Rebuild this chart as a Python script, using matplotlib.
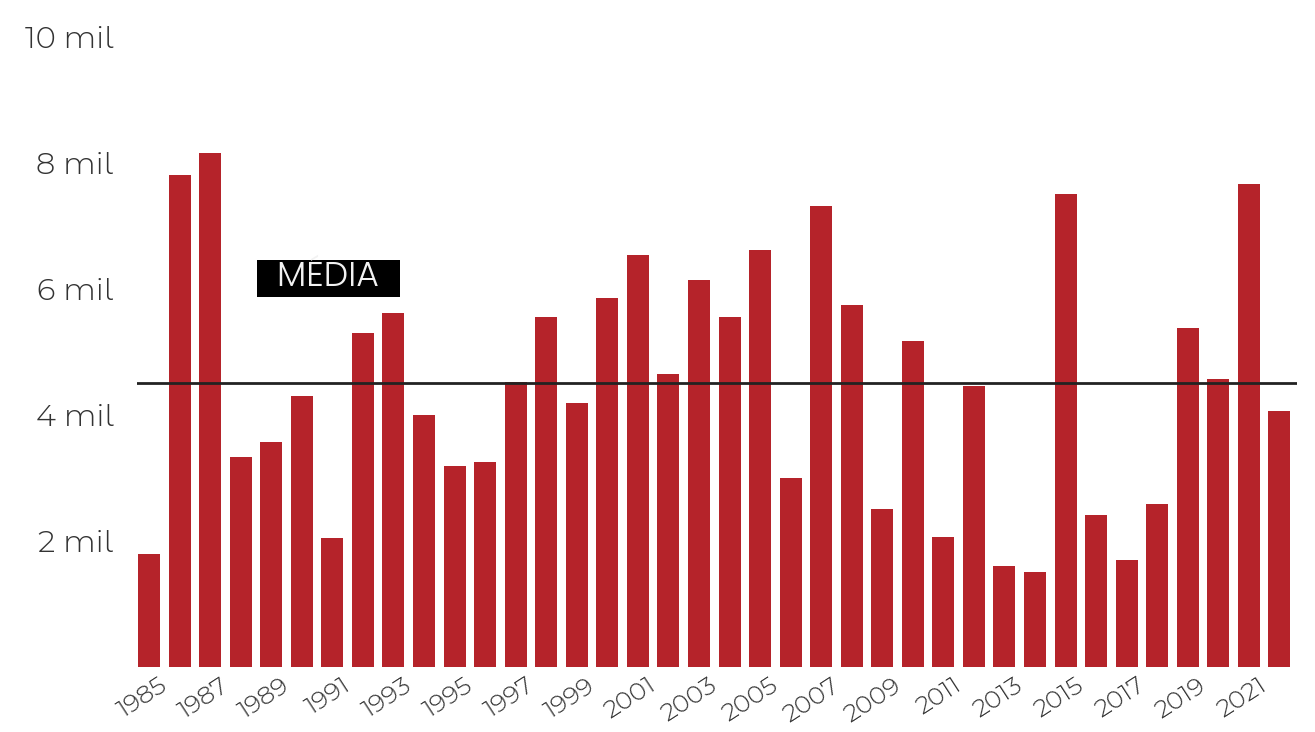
import matplotlib
matplotlib.use("Agg")
import matplotlib.pyplot as plt
import matplotlib.transforms as mtransforms
from matplotlib import font_manager

years = list(range(1985, 2023))
values = [1800, 7810, 8160, 3330, 3570, 4300, 2050, 5300, 5620, 4000,
          3190, 3250, 4520, 5560, 4190, 5860, 6540, 4650, 6140, 5560,
          6620, 3000, 7320, 5750, 2510, 5170, 2060, 4460, 1600, 1510,
          7510, 2410, 1700, 2590, 5380, 4570, 7670, 4060]
mean_value = 4510
ytick_vals = [2000, 4000, 6000, 8000, 10000]
ytick_labels = ["2 mil", "4 mil", "6 mil", "8 mil", "10 mil"]
label_text = "MÉDIA"

names = {f.name for f in font_manager.fontManager.ttflist}
fam = "Montserrat Alternates" if "Montserrat Alternates" in names else "DejaVu Sans"
lab_fam = "Poppins" if "Poppins" in names else "DejaVu Sans"
plt.rcParams['font.family'] = [fam, 'DejaVu Sans']
W = 300

fig = plt.figure(figsize=(13.15, 7.32), dpi=100)
ax = fig.add_axes([0.104, 0.0888, 0.882, 0.8607])

x = list(range(len(years)))
ax.bar(x, values, width=0.72, color="#B5232A", zorder=2)
ax.axhline(mean_value, color="#222222", lw=2, zorder=3)

ax.set_xlim(-0.4, 37.56)
ax.set_ylim(0, 10000)
ax.set_yticks(ytick_vals)
ax.set_yticklabels(ytick_labels, fontsize=22, color="#333333", fontweight=W)
ax.set_xticks(x[::2])
ax.set_xticklabels([str(y) for y in years[::2]], rotation=33, ha="right",
                   rotation_mode="anchor", fontsize=18, color="#333333", fontweight=W)
ax.tick_params(axis="y", length=0, pad=17)
ax.tick_params(axis="x", length=0, pad=5)
offset = mtransforms.ScaledTranslation(10 / 100, 0, fig.dpi_scale_trans)
for lab in ax.get_xticklabels():
    lab.set_transform(lab.get_transform() + offset)
for s in ax.spines.values():
    s.set_visible(False)

ax.text(5.87, 6170, "  " + label_text + "  ", ha="center", va="center", fontsize=25,
        color="#f2f2f2", fontweight=W, family=[lab_fam, 'DejaVu Sans'],
        bbox=dict(facecolor="black", edgecolor="none", boxstyle="square,pad=0.04"))

fig.savefig("out.png", dpi=100)
